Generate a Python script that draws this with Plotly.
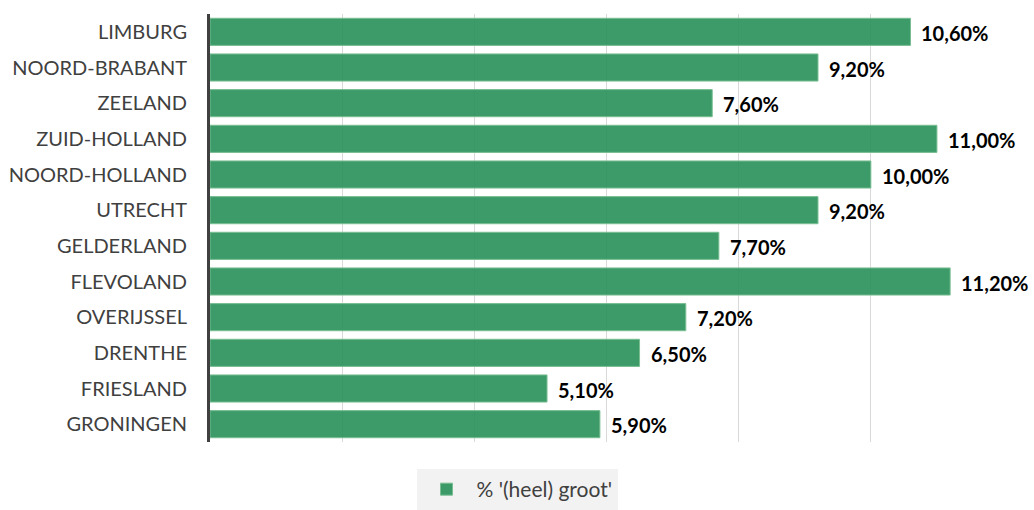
import plotly.graph_objects as go

provinces = ["LIMBURG", "NOORD-BRABANT", "ZEELAND", "ZUID-HOLLAND", "NOORD-HOLLAND",
             "UTRECHT", "GELDERLAND", "FLEVOLAND", "OVERIJSSEL", "DRENTHE",
             "FRIESLAND", "GRONINGEN"]
values = [10.6, 9.2, 7.6, 11.0, 10.0, 9.2, 7.7, 11.2, 7.2, 6.5, 5.1, 5.9]
labels = ["10,60%", "9,20%", "7,60%", "11,00%", "10,00%", "9,20%", "7,70%",
          "11,20%", "7,20%", "6,50%", "5,10%", "5,90%"]
series_name = "% '(heel) groot'"
x_ticks = [0, 2, 4, 6, 8, 10, 12]

fig = go.Figure()
fig.add_trace(go.Bar(
    y=provinces, x=values, orientation="h", name=series_name,
    marker=dict(color="rgba(45,146,92,0.92)", line=dict(color="rgba(120,190,145,1)", width=1)),
    hoverinfo="skip",
))
for p, v, t in zip(provinces, values, labels):
    fig.add_annotation(x=v, y=p, text="<b>" + t + "</b>", showarrow=False,
                       xanchor="left", xshift=9, yshift=-1,
                       font=dict(family="Lato", size=20, color="#000000"))

fig.update_layout(
    width=1034, height=510,
    margin=dict(l=210, r=31, t=14, b=68),
    plot_bgcolor="white", paper_bgcolor="white",
    bargap=0.24,
    font=dict(family="Lato", size=20, color="#404040"),
    showlegend=True,
    legend=dict(orientation="h", xref="container", yref="container",
                x=0.5, xanchor="center", y=0.0, yanchor="bottom",
                bgcolor="#f2f2f2", font=dict(size=21, color="#404040"),
                itemwidth=50),
    xaxis=dict(range=[0, 12], tickvals=x_ticks, showticklabels=False,
               showgrid=True, gridcolor="#d9d9d9", gridwidth=1, zeroline=False,
               ticks="outside", ticklen=0, automargin=False),
    yaxis=dict(categoryorder="array", categoryarray=provinces[::-1],
               showline=True, linecolor="#404040", linewidth=3, automargin=False,
               ticks="", ticklabelstandoff=16, tickfont=dict(size=20, color="#404040")),
)

fig.write_html("out.html")
